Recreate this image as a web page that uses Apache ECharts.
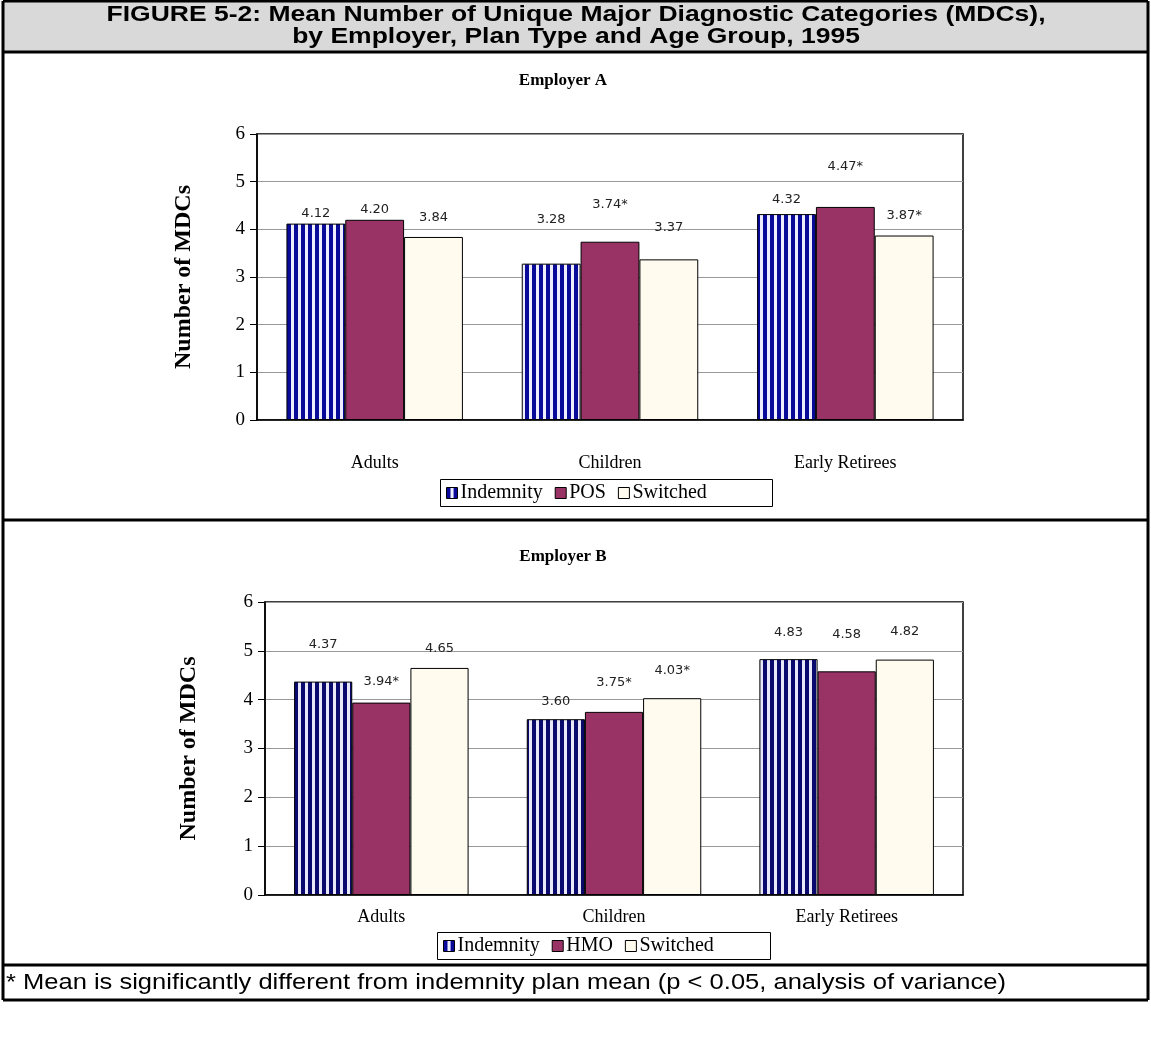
<!DOCTYPE html>
<html>
<head>
<meta charset="utf-8">
<script src="https://cdn.jsdelivr.net/npm/echarts@6/dist/echarts.min.js"></script>
<style>
  html, body { margin: 0; padding: 0; background: #fff; }
  #chart { width: 1151px; height: 1041px; }
</style>
</head>
<body>
<div id="chart"></div>
<script>
// ---- data ----
const ageGroups = ['Adults', 'Children', 'Early Retirees'];
const yTicks = [0, 1, 2, 3, 4, 5, 6];

const empA_indemnity = [4.12, 3.28, 4.32];
const empA_pos       = [4.20, 3.74, 4.47];
const empA_switched  = [3.84, 3.37, 3.87];
const empA_posSig      = [false, true, true];
const empA_switchedSig = [false, false, true];

const empB_indemnity = [4.37, 3.60, 4.83];
const empB_hmo       = [3.94, 3.75, 4.58];
const empB_switched  = [4.65, 4.03, 4.82];
const empB_hmoSig      = [true, true, false];
const empB_switchedSig = [false, true, false];

const noSig = [false, false, false];

// ---- layout (label lift above each bar, px) ----
const liftA = { ind: [10, 45, 15], pos: [11, 38, 41], sw: [20, 32, 20] };
const liftB = { ind: [37, 18, 27], hmo: [21, 30, 37], sw: [20, 28, 28] };

const SERIF = '"Liberation Serif", "Times New Roman", serif';
const SANS = '"Liberation Sans", Arial, sans-serif';
const PLUM = '#993366';
const IVORY = '#fffbef';

function stripes(dark, light) {
  const c = document.createElement('canvas');
  c.width = 7; c.height = 4;
  const g = c.getContext('2d');
  g.fillStyle = light; g.fillRect(0, 0, 7, 4);
  g.fillStyle = dark; g.fillRect(0, 0, 4, 4);
  return { image: c, repeat: 'repeat' };
}
const stripeA = stripes('#0a0a9a', '#eeeeff');
const stripeB = stripes('#0a0a6e', '#e8e8f8');

function barSeries(name, values, sig, lift, color, axisIdx) {
  return {
    name: name,
    type: 'bar',
    xAxisIndex: axisIdx,
    yAxisIndex: axisIdx,
    barGap: '0%',
    barCategoryGap: '25%',
    itemStyle: { color: color, borderColor: '#000', borderWidth: 1 },
    data: values.map((v, i) => ({
      value: v,
      label: { distance: lift[i] - 7 }
    })),
    label: {
      show: true,
      position: 'top',
      color: '#222',
      fontFamily: '"DejaVu Sans", sans-serif',
      fontSize: 13,
      formatter: p => values[p.dataIndex].toFixed(2) + (sig[p.dataIndex] ? '*' : '')
    },
    emphasis: { disabled: true }
  };
}

function valueAxis(idx) {
  return {
    type: 'value', gridIndex: idx, min: 0, max: 6, interval: 1,
    name: 'Number of MDCs', nameLocation: 'middle', nameGap: idx === 0 ? 61 : 64,
    nameTextStyle: { fontFamily: SERIF, fontWeight: 'bold', fontSize: 24, color: '#000' },
    axisLine: { show: true, lineStyle: { color: '#000', width: 1.5 } },
    axisTick: { show: true, inside: false, length: 7, lineStyle: { color: '#000' } },
    axisLabel: { color: '#000', fontFamily: SERIF, fontSize: 19, margin: 12,
                 formatter: v => yTicks.includes(v) ? String(v) : '' },
    splitLine: { show: true, lineStyle: { color: '#999', width: 1 } }
  };
}

function catAxis(idx) {
  return {
    type: 'category', gridIndex: idx, data: ageGroups,
    axisLine: { show: true, lineStyle: { color: '#000', width: 1.5 } },
    axisTick: { show: false },
    axisLabel: { color: '#000', fontFamily: SERIF, fontSize: 18, margin: idx === 0 ? 34 : 13 }
  };
}

// stretch or squeeze a line of text horizontally so it spans a target width
function fitScale(text, font, target) {
  const g = document.createElement('canvas').getContext('2d');
  g.font = font;
  return target / g.measureText(text).width;
}

const head1 = 'FIGURE 5-2: Mean Number of Unique Major Diagnostic Categories (MDCs),';
const head2 = 'by Employer, Plan Type and Age Group, 1995';
const foot = '* Mean is significantly different from indemnity plan mean (p < 0.05, analysis of variance)';
const headFont = 'bold 22px ' + SANS;
const footFont = '22px ' + SANS;
const headScale = fitScale(head1, headFont, 939);
const footScale = fitScale(foot, footFont, 1000);

function legendFor(names, left, top) {
  return {
    left: left, top: top,
    orient: 'horizontal',
    itemWidth: 11, itemHeight: 11, itemGap: 12,
    padding: 0,
    icon: 'rect',
    textStyle: { fontFamily: SERIF, fontSize: 20, color: '#000', padding: [0, 0, 0, -2] },
    itemStyle: { borderColor: '#000', borderWidth: 1 },
    selectedMode: false,
    data: names
  };
}

// legend frames: [x, y, w, h]
const legendBoxes = [[440, 479, 332, 27], [437, 932, 333, 27]];

const FRAME = { l: 3, r: 1148, t: 1, head: 52, sep1: 520, sep2: 965, b: 1000 };

const option = {
  animation: false,
  backgroundColor: '#fff',
  title: [
    { text: 'Employer A', left: 558, top: 67, textAlign: 'center',
      textStyle: { fontFamily: SERIF, fontWeight: 'bold', fontSize: 17, color: '#000' } },
    { text: 'Employer B', left: 558, top: 543, textAlign: 'center',
      textStyle: { fontFamily: SERIF, fontWeight: 'bold', fontSize: 17, color: '#000' } }
  ],
  legend: [
    legendFor(['Indemnity', 'POS', 'Switched'], 446, 483),
    legendFor(['Indemnity', 'HMO', 'Switched'], 443, 936)
  ],
  grid: [
    { left: 257, top: 134, width: 706, height: 286, show: true,
      borderColor: '#000', borderWidth: 1.5, backgroundColor: '#fff' },
    { left: 265, top: 602, width: 698, height: 293, show: true,
      borderColor: '#000', borderWidth: 1.5, backgroundColor: '#fff' }
  ],
  xAxis: [catAxis(0), catAxis(1)],
  yAxis: [valueAxis(0), valueAxis(1)],
  series: [
    barSeries('Indemnity', empA_indemnity, noSig, liftA.ind, stripeA, 0),
    barSeries('POS', empA_pos, empA_posSig, liftA.pos, PLUM, 0),
    barSeries('Switched', empA_switched, empA_switchedSig, liftA.sw, IVORY, 0),
    barSeries('Indemnity', empB_indemnity, noSig, liftB.ind, stripeB, 1),
    barSeries('HMO', empB_hmo, empB_hmoSig, liftB.hmo, PLUM, 1),
    barSeries('Switched', empB_switched, empB_switchedSig, liftB.sw, IVORY, 1)
  ],
  graphic: [
    { type: 'rect', z: 0, silent: true,
      shape: { x: FRAME.l, y: FRAME.t, width: FRAME.r - FRAME.l, height: FRAME.head - FRAME.t },
      style: { fill: '#d9d9d9' } },
    { type: 'text', z: 10, silent: true, x: 576, y: 15, scaleX: headScale, originX: 0, originY: 0,
      style: { text: head1, font: headFont, fill: '#000', align: 'center', verticalAlign: 'middle' } },
    { type: 'text', z: 10, silent: true, x: 576, y: 37, scaleX: headScale, originX: 0, originY: 0,
      style: { text: head2, font: headFont, fill: '#000', align: 'center', verticalAlign: 'middle' } },
    { type: 'text', z: 10, silent: true, x: 6, y: 983, scaleX: footScale, originX: 0, originY: 0,
      style: { text: foot, font: footFont, fill: '#000', align: 'left', verticalAlign: 'middle' } },
    ...legendBoxes.map(b => ({
      type: 'rect', z: 5, silent: true,
      shape: { x: b[0] + 0.5, y: b[1] + 0.5, width: b[2], height: b[3] },
      style: { fill: 'none', stroke: '#000', lineWidth: 1 }
    })),
    // frame lines
    ...[
      [FRAME.l, FRAME.t, FRAME.r, FRAME.t],
      [FRAME.l, FRAME.head, FRAME.r, FRAME.head],
      [FRAME.l, FRAME.sep1, FRAME.r, FRAME.sep1],
      [FRAME.l, FRAME.sep2, FRAME.r, FRAME.sep2],
      [FRAME.l, FRAME.b, FRAME.r, FRAME.b],
      [FRAME.l, FRAME.t, FRAME.l, FRAME.b],
      [FRAME.r, FRAME.t, FRAME.r, FRAME.b]
    ].map(s => ({
      type: 'line', z: 20, silent: true,
      shape: { x1: s[0], y1: s[1], x2: s[2], y2: s[3] },
      style: { stroke: '#000', lineWidth: 3 }
    }))
  ]
};

const chart = echarts.init(document.getElementById('chart'), null, { renderer: 'canvas' });
chart.setOption(option);
</script>
</body>
</html>
